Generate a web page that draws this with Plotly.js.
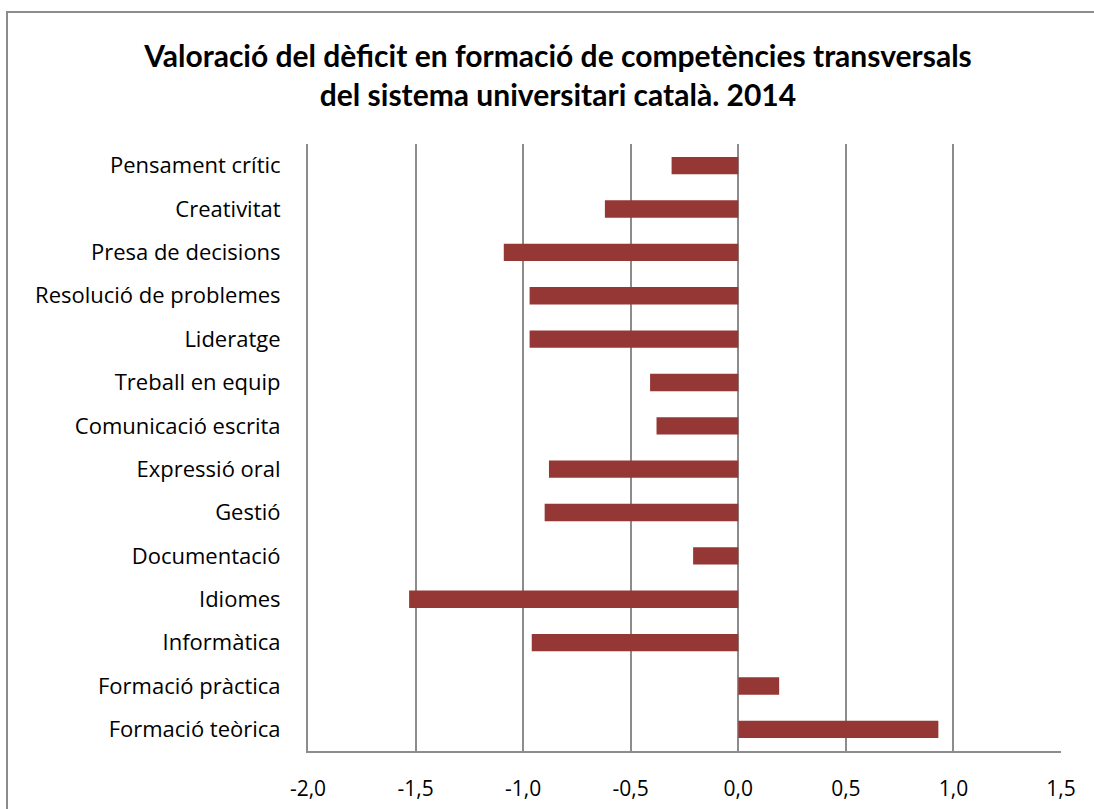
<!DOCTYPE html>
<html>
<head>
<meta charset="utf-8">
<script src="https://cdn.plot.ly/plotly-3.0.1.min.js"></script>
<style>
  html, body { margin: 0; padding: 0; background: #fff; }
  #wrap { position: relative; width: 1094px; height: 809px; overflow: hidden; }
  #chart { position: absolute; left: 0; top: 0; width: 1094px; height: 809px; }
  #frame { position: absolute; left: 6px; top: 11px; width: 1200px; height: 900px;
           border-left: 2px solid #8c8c8c; border-top: 2px solid #8c8c8c; pointer-events: none; }
</style>
</head>
<body>
<div id="wrap">
  <div id="chart"></div>
  <div id="frame"></div>
</div>
<script>
const categories = [
  "Pensament crític",
  "Creativitat",
  "Presa de decisions",
  "Resolució de problemes",
  "Lideratge",
  "Treball en equip",
  "Comunicació escrita",
  "Expressió oral",
  "Gestió",
  "Documentació",
  "Idiomes",
  "Informàtica",
  "Formació pràctica",
  "Formació teòrica"
];
const values = [-0.31, -0.62, -1.09, -0.97, -0.97, -0.41, -0.38, -0.88, -0.90, -0.21, -1.53, -0.96, 0.19, 0.93];
const tickValues = [-2.0, -1.5, -1.0, -0.5, 0.0, 0.5, 1.0, 1.5];
const tickLabels = ["-2,0", "-1,5", "-1,0", "-0,5", "0,0", "0,5", "1,0", "1,5"];
const titleText = "Valoració del dèficit en formació de competències transversals<br>del sistema universitari català. 2014";

const trace = {
  type: "bar",
  orientation: "h",
  y: categories,
  x: values,
  marker: { color: "#953735", line: { width: 0 } },
  hoverinfo: "x+y"
};

const layout = {
  width: 1094,
  height: 809,
  margin: { l: 308, r: 33, t: 144, b: 58, pad: 0 },
  paper_bgcolor: "#ffffff",
  plot_bgcolor: "#ffffff",
  showlegend: false,
  bargap: 0.6,
  font: { family: "'Open Sans', Lato, sans-serif", size: 21, color: "#000" },
  title: {
    text: titleText,
    font: { family: "Lato, 'Open Sans', sans-serif", size: 30, color: "#000", weight: "bold" },
    x: 558 / 1094, xanchor: "center", xref: "container",
    y: 1 - 67 / 809, yanchor: "middle", yref: "container"
  },
  xaxis: {
    range: [-2.0, 1.5],
    tickvals: tickValues,
    ticktext: tickLabels,
    showgrid: true,
    gridcolor: "#8c8c8c",
    gridwidth: 2,
    zeroline: true,
    zerolinecolor: "#8c8c8c",
    zerolinewidth: 2,
    showline: true,
    linecolor: "#8c8c8c",
    linewidth: 2,
    ticks: "",
    ticklabelstandoff: 18,
    tickfont: { size: 21 },
    fixedrange: true
  },
  yaxis: {
    type: "category",
    autorange: "reversed",
    showgrid: false,
    showline: true,
    linecolor: "#8c8c8c",
    linewidth: 2,
    ticks: "",
    ticklabelstandoff: 21,
    tickfont: { size: 22 },
    fixedrange: true
  }
};

Plotly.newPlot("chart", [trace], layout, { displayModeBar: false, staticPlot: true });
</script>
</body>
</html>
